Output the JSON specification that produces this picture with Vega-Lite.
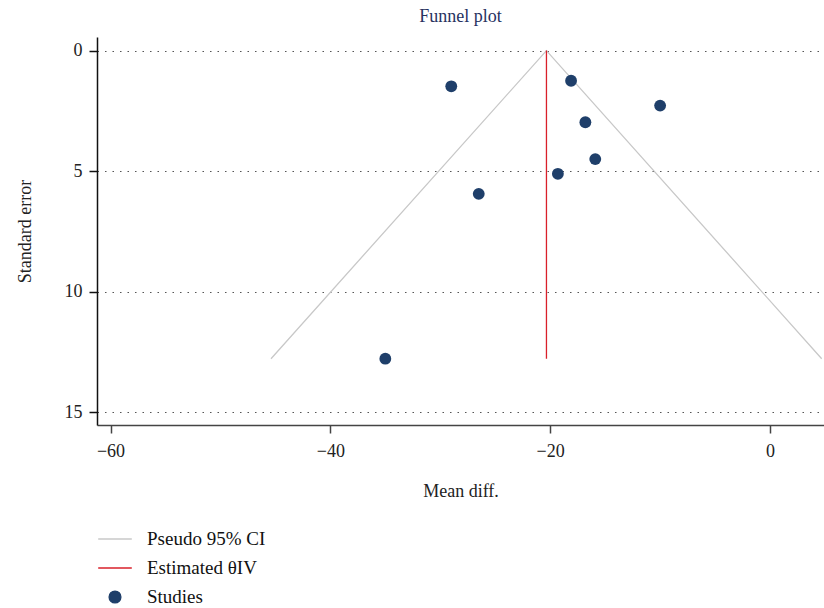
{
  "$schema": "https://vega.github.io/schema/vega-lite/v6.json",
  "width": 727,
  "height": 388,
  "autosize": "none",
  "padding": {"left": 97, "top": 37, "right": 0, "bottom": 183},
  "background": "white",
  "config": {
    "view": {"stroke": null},
    "font": "Liberation Serif"
  },
  "title": {
    "text": "Funnel plot",
    "font": "Liberation Serif",
    "fontSize": 18,
    "fontWeight": "normal",
    "color": "#27325f",
    "anchor": "middle",
    "offset": 11
  },
  "datasets": {
    "studies": [
      {"series": "Studies", "md": -29.0, "se": 1.48},
      {"series": "Studies", "md": -18.1, "se": 1.25},
      {"series": "Studies", "md": -10.0, "se": 2.28},
      {"series": "Studies", "md": -16.8, "se": 2.97},
      {"series": "Studies", "md": -15.9, "se": 4.50},
      {"series": "Studies", "md": -19.3, "se": 5.11},
      {"series": "Studies", "md": -26.5, "se": 5.94},
      {"series": "Studies", "md": -35.0, "se": 12.78}
    ],
    "ci": [
      {"series": "Pseudo 95% CI", "md": -45.4, "se": 12.78, "ord": 1},
      {"series": "Pseudo 95% CI", "md": -20.34, "se": 0, "ord": 2},
      {"series": "Pseudo 95% CI", "md": 4.7, "se": 12.78, "ord": 3}
    ],
    "est": [
      {"series": "Estimated θIV", "md": -20.34, "se": 0, "ord": 1},
      {"series": "Estimated θIV", "md": -20.34, "se": 12.78, "ord": 2}
    ]
  },
  "encoding": {
    "x": {
      "field": "md",
      "type": "quantitative",
      "scale": {"domain": [-61.23, 4.91], "nice": false, "zero": false},
      "axis": {
        "title": "Mean diff.",
        "values": [-60, -40, -20, 0],
        "grid": false,
        "domainColor": "#444444",
        "domainWidth": 1.5,
        "tickColor": "#444444",
        "tickWidth": 1.5,
        "tickSize": 8,
        "labelFont": "Liberation Serif",
        "labelFontSize": 18,
        "labelColor": "#222222",
        "labelPadding": 9,
        "titleFont": "Liberation Serif",
        "titleFontSize": 18,
        "titleFontWeight": "normal",
        "titleColor": "#222222",
        "titlePadding": 22
      }
    },
    "y": {
      "field": "se",
      "type": "quantitative",
      "scale": {"domain": [-0.565, 15.53], "nice": false, "zero": false, "reverse": true},
      "axis": {
        "title": "Standard error",
        "values": [0, 5, 10, 15],
        "grid": true,
        "gridColor": "#555555",
        "gridDash": [1.5, 6],
        "gridWidth": 1.2,
        "domainColor": "#111111",
        "domainWidth": 1.5,
        "tickColor": "#111111",
        "tickWidth": 1.5,
        "tickSize": 8,
        "labelFont": "Liberation Serif",
        "labelFontSize": 18,
        "labelColor": "#222222",
        "labelPadding": 7,
        "titleFont": "Liberation Serif",
        "titleFontSize": 18,
        "titleFontWeight": "normal",
        "titleColor": "#222222",
        "titlePadding": 30
      }
    },
    "color": {
      "field": "series",
      "type": "nominal",
      "scale": {
        "domain": ["Pseudo 95% CI", "Estimated θIV", "Studies"],
        "range": ["#c8c8c8", "#d9202a", "#1f3f6a"]
      },
      "legend": {
        "title": null,
        "orient": "none",
        "legendX": 5,
        "legendY": 489,
        "padding": 0,
        "symbolSize": 576,
        "symbolStrokeWidth": 1.3,
        "labelFont": "Liberation Serif",
        "labelFontSize": 19,
        "labelColor": "#111111",
        "labelOffset": 19,
        "rowPadding": 6,
        "encode": {
          "symbols": {
            "update": {
              "shape": {"signal": "datum.value === 'Studies' ? 'circle' : 'M-1.4,0H1.4'"},
              "size": {"signal": "datum.value === 'Studies' ? 140 : 576"},
              "fill": {"signal": "datum.value === 'Studies' ? '#1f3f6a' : 'transparent'"},
              "stroke": {"signal": "datum.value === 'Studies' ? 'transparent' : (datum.value === 'Pseudo 95% CI' ? '#c8c8c8' : '#d9202a')"},
              "strokeWidth": {"value": 1.3},
              "opacity": {"value": 1}
            }
          }
        }
      }
    }
  },
  "layer": [
    {
      "data": {"name": "ci"},
      "mark": {"type": "line", "strokeWidth": 1.3},
      "encoding": {"order": {"field": "ord", "type": "quantitative"}}
    },
    {
      "data": {"name": "est"},
      "mark": {"type": "line", "strokeWidth": 1.3},
      "encoding": {"order": {"field": "ord", "type": "quantitative"}}
    },
    {
      "data": {"name": "studies"},
      "mark": {"type": "point", "filled": true, "opacity": 1, "size": 140, "shape": "circle"},
      "encoding": {}
    }
  ]
}
